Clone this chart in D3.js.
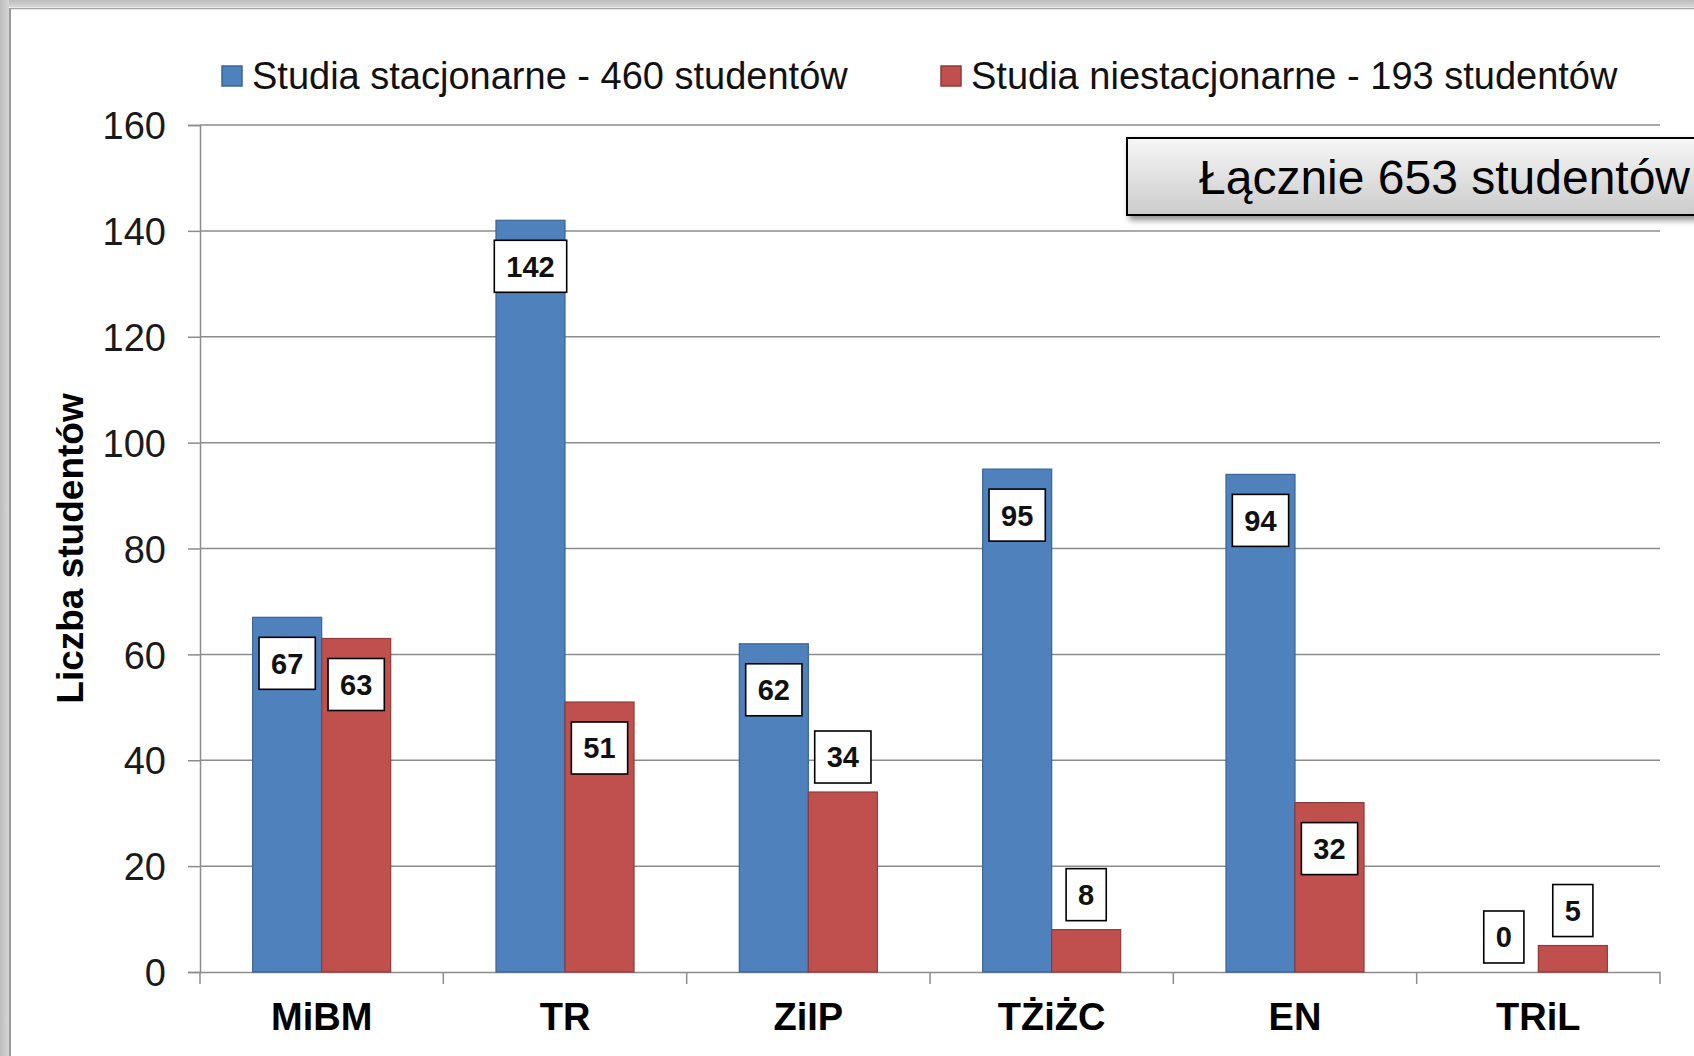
<!DOCTYPE html>
<html>
<head>
<meta charset="utf-8">
<script src="https://cdn.jsdelivr.net/npm/d3@7"></script>
<style>
  html, body { margin: 0; padding: 0; background: #fff; }
  svg { display: block; font-family: "Liberation Sans", Arial, sans-serif; }
</style>
</head>
<body>
<svg id="chart" width="1694" height="1056"></svg>
<script>
// ---- data ----
const categories = ["MiBM", "TR", "ZiIP", "TŻiŻC", "EN", "TRiL"];
const seriesNames = ["Studia stacjonarne - 460 studentów", "Studia niestacjonarne - 193 studentów"];
const stacjonarne = [67, 142, 62, 95, 94, 0];
const niestacjonarne = [63, 51, 34, 8, 32, 5];
const yTicks = [0, 20, 40, 60, 80, 100, 120, 140, 160];
const yTitle = "Liczba studentów";
const totalNote = "Łącznie 653 studentów";
// labels that sit above their bar instead of inside (category|seriesIndex)
const outsideLabels = new Set(["ZiIP|1", "TŻiŻC|1", "TRiL|0", "TRiL|1"]);

// ---- layout ----
const W = 1694, H = 1056;
const plot = { left: 200, right: 1660, top: 125, bottom: 972 };
const colors = ["#4F81BD", "#C0504D"];
const strokes = ["#3A6496", "#8E3B39"];
const font = '"Liberation Sans", Arial, sans-serif';

const svg = d3.select("#chart");
const defs = svg.append("defs");

// frame
svg.append("rect").attr("x", 0).attr("y", 0).attr("width", W).attr("height", H).attr("fill", "#fff");
const gTop = defs.append("linearGradient").attr("id", "gTop").attr("x1", 0).attr("y1", 0).attr("x2", 0).attr("y2", 1);
gTop.append("stop").attr("offset", "0%").attr("stop-color", "#bdbdbd");
gTop.append("stop").attr("offset", "100%").attr("stop-color", "#d6d6d6");
const gLeft = defs.append("linearGradient").attr("id", "gLeft").attr("x1", 0).attr("y1", 0).attr("x2", 1).attr("y2", 0);
gLeft.append("stop").attr("offset", "0%").attr("stop-color", "#bdbdbd");
gLeft.append("stop").attr("offset", "100%").attr("stop-color", "#d6d6d6");
svg.append("rect").attr("x", 0).attr("y", 0).attr("width", W).attr("height", 7).attr("fill", "url(#gTop)");
svg.append("rect").attr("x", 0).attr("y", 0).attr("width", 9).attr("height", H).attr("fill", "url(#gLeft)");
svg.append("line").attr("x1", 10).attr("x2", W).attr("y1", 8.5).attr("y2", 8.5).attr("stroke", "#a8a8a8").attr("stroke-width", 1.5);
svg.append("line").attr("x1", 10).attr("x2", 10).attr("y1", 8).attr("y2", H).attr("stroke", "#999").attr("stroke-width", 2);

// scales
const x0 = d3.scaleBand().domain(categories).range([plot.left, plot.right]).padding(0);
const x1 = d3.scaleBand().domain([0, 1]).range([0, x0.bandwidth()]).paddingInner(0).paddingOuter(0.763);
const y = d3.scaleLinear().domain([0, 160]).range([plot.bottom, plot.top]);

// gridlines
svg.append("g").selectAll("line").data(yTicks.filter(t => t > 0)).join("line")
  .attr("x1", plot.left).attr("x2", plot.right)
  .attr("y1", d => y(d)).attr("y2", d => y(d))
  .attr("stroke", "#8c8c8c").attr("stroke-width", 1.5);

// y axis
const yAxis = svg.append("g").attr("transform", `translate(${plot.left},0)`)
  .call(d3.axisLeft(y).tickValues(yTicks).tickSize(12).tickPadding(22).tickFormat(d3.format("d")));
yAxis.select(".domain").attr("stroke", "#8c8c8c").attr("stroke-width", 1.5);
yAxis.selectAll(".tick line").attr("stroke", "#8c8c8c").attr("stroke-width", 1.5);
yAxis.selectAll(".tick text").attr("font-family", font).attr("font-size", 38).attr("fill", "#1a1a1a").attr("dy", "0.36em");

// x axis
const xAxis = svg.append("g").attr("transform", `translate(0,${plot.bottom})`)
  .call(d3.axisBottom(x0).tickSize(0).tickPadding(0));
xAxis.select(".domain").attr("stroke", "#8c8c8c").attr("stroke-width", 1.5);
xAxis.selectAll(".tick text").attr("font-family", font).attr("font-size", 38).attr("font-weight", "bold")
  .attr("fill", "#000").attr("y", 58).attr("dy", 0);
// tick marks at category boundaries
const bounds = categories.map(c => x0(c)).concat([plot.right]);
xAxis.append("g").selectAll("line").data(bounds).join("line")
  .attr("x1", d => d).attr("x2", d => d).attr("y1", 0).attr("y2", 12)
  .attr("stroke", "#8c8c8c").attr("stroke-width", 1.5);

// y title
svg.append("text")
  .attr("transform", `translate(${83},${(plot.top + plot.bottom) / 2}) rotate(-90)`)
  .attr("text-anchor", "middle")
  .attr("font-family", font).attr("font-size", 37).attr("font-weight", "bold").attr("fill", "#000")
  .text(yTitle);

// bars
const rows = categories.map((c, i) => ({ cat: c, vals: [stacjonarne[i], niestacjonarne[i]] }));
const groups = svg.append("g").selectAll("g").data(rows).join("g")
  .attr("transform", d => `translate(${x0(d.cat)},0)`);
groups.selectAll("rect").data(d => d.vals.map((v, s) => ({ v, s, cat: d.cat }))).join("rect")
  .attr("x", d => x1(d.s)).attr("width", x1.bandwidth())
  .attr("y", d => y(d.v)).attr("height", d => y(0) - y(d.v))
  .attr("fill", d => colors[d.s])
  .attr("stroke", d => d.v > 0 ? strokes[d.s] : "none").attr("stroke-width", 1.2);

// data labels
const labelFont = 29, boxH = 52, padX = 12;
groups.each(function (d) {
  const g = d3.select(this);
  d.vals.forEach((v, s) => {
    const cx = x1(s) + x1.bandwidth() / 2;
    const txt = String(v);
    const tmp = g.append("text").attr("font-family", font).attr("font-size", labelFont).attr("font-weight", "bold").text(txt);
    const tw = tmp.node().getComputedTextLength();
    tmp.remove();
    const bw = tw + 2 * padX;
    const outside = outsideLabels.has(d.cat + "|" + s);
    const top = outside ? y(v) - 9 - boxH : y(v) + 20;
    g.append("rect").attr("x", cx - bw / 2).attr("y", top).attr("width", bw).attr("height", boxH)
      .attr("fill", "#fff").attr("stroke", "#000").attr("stroke-width", 1.6);
    g.append("text").attr("x", cx).attr("y", top + boxH / 2).attr("dy", "0.36em")
      .attr("text-anchor", "middle").attr("font-family", font).attr("font-size", labelFont)
      .attr("font-weight", "bold").attr("fill", "#111").text(txt);
  });
});

// legend
const legendX = [222, 941];
const lg = svg.append("g").selectAll("g").data(seriesNames).join("g");
lg.append("rect").attr("x", (d, i) => legendX[i]).attr("y", 66).attr("width", 20).attr("height", 20)
  .attr("fill", (d, i) => colors[i]).attr("stroke", (d, i) => strokes[i]).attr("stroke-width", 1.5);
lg.append("text").attr("x", (d, i) => legendX[i] + 30).attr("y", 89)
  .attr("font-family", font).attr("font-size", 38).attr("fill", "#111").text(d => d);

// total note box
const sh = defs.append("filter").attr("id", "shadow").attr("x", "-10%").attr("y", "-20%").attr("width", "130%").attr("height", "160%");
sh.append("feDropShadow").attr("dx", 3).attr("dy", 4).attr("stdDeviation", 3).attr("flood-color", "#000").attr("flood-opacity", 0.45);
const gBox = defs.append("linearGradient").attr("id", "gBox").attr("x1", 0).attr("y1", 0).attr("x2", 0).attr("y2", 1);
gBox.append("stop").attr("offset", "0%").attr("stop-color", "#f7f7f7");
gBox.append("stop").attr("offset", "100%").attr("stop-color", "#cbcbcb");
svg.append("rect").attr("x", 1127).attr("y", 138).attr("width", 620).attr("height", 77)
  .attr("fill", "url(#gBox)").attr("stroke", "#000").attr("stroke-width", 2).attr("filter", "url(#shadow)");
svg.append("text").attr("x", 1199).attr("y", 194)
  .attr("font-family", font).attr("font-size", 48).attr("fill", "#000").text(totalNote);
</script>
</body>
</html>
